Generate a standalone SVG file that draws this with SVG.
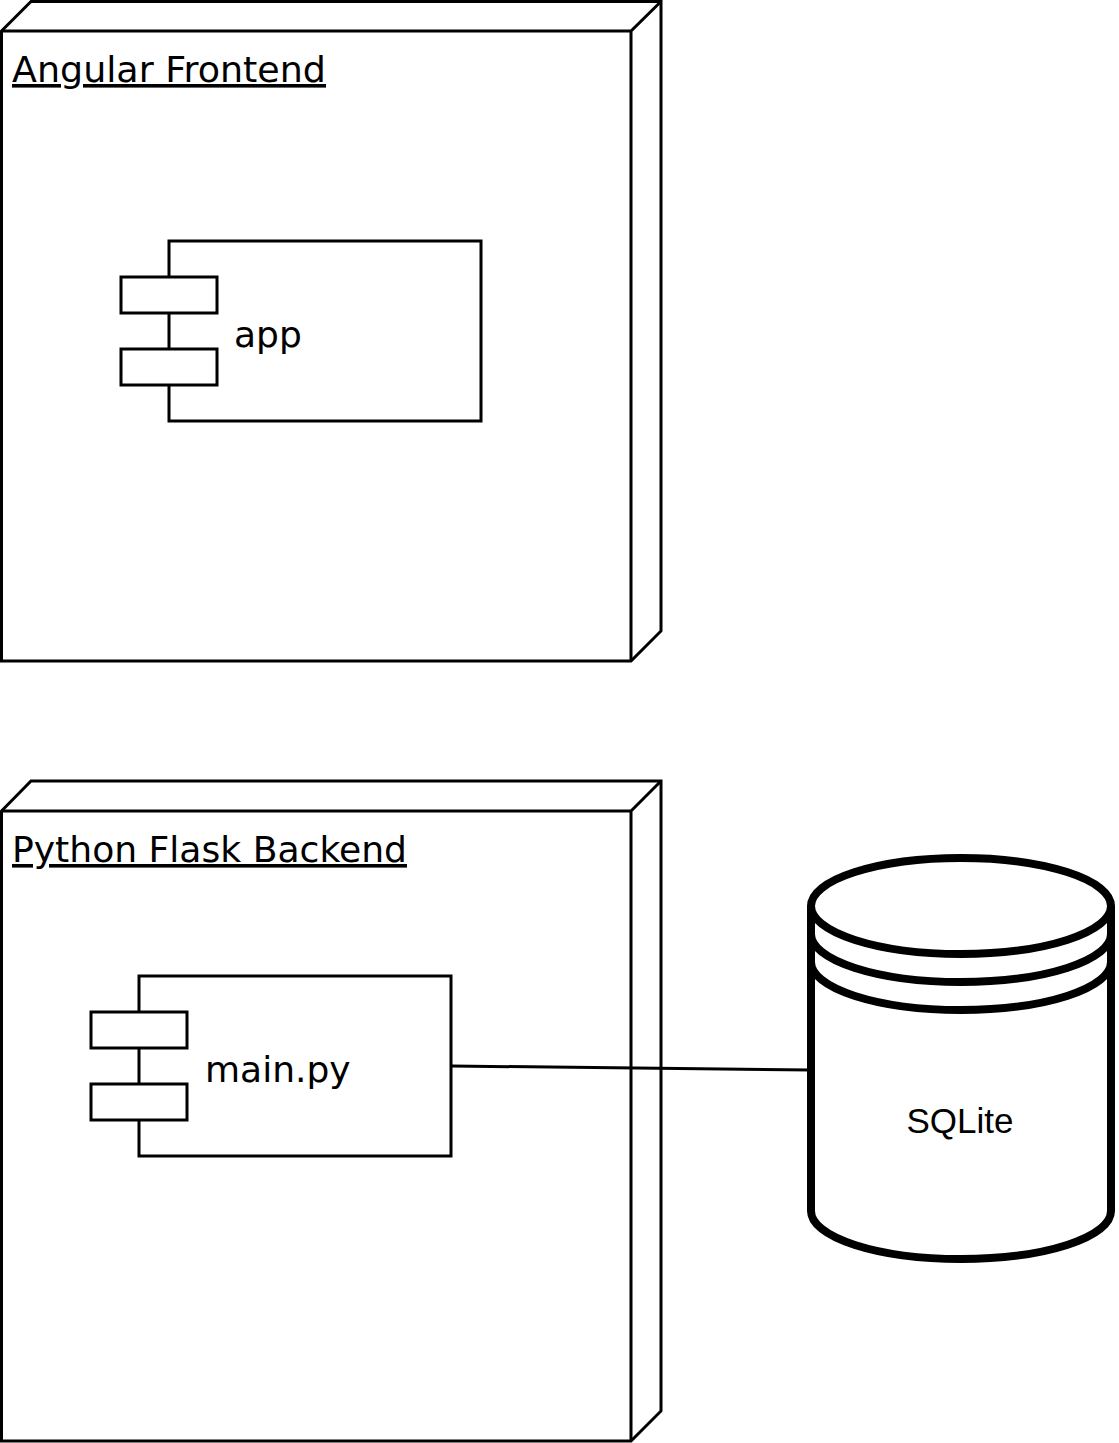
<svg xmlns="http://www.w3.org/2000/svg" width="1119" height="1443" viewBox="0 0 1119 1443">
<style>
.ln{fill:none;stroke:#000;stroke-width:3;stroke-linejoin:miter}
.bx{fill:#fff;stroke:#000;stroke-width:3}
.t{font-family:"DejaVu Sans",Verdana,sans-serif;font-size:36px;fill:#000}
.u{text-decoration:underline}
.db{fill:#fff;stroke:#000;stroke-width:8}
.dbl{fill:none;stroke:#000;stroke-width:8}
.s{font-family:"Liberation Sans",Arial,sans-serif;font-size:35px;fill:#000}
</style>
<rect width="1119" height="1443" fill="#fff"/>
<g id="node-angular">
<path class="bx" d="M1.5,31 L31,1.5 L661,1.5 L661,631 L631,661 L1.5,661 Z"/>
<path class="ln" d="M1.5,31 L631,31 L661,1.5 M631,31 L631,661"/>
<text class="t u" x="12" y="82" textLength="314" lengthAdjust="spacingAndGlyphs">Angular Frontend</text>
</g>
<g id="comp-app">
<rect class="bx" x="169" y="241" width="312" height="180"/>
<rect class="bx" x="121" y="277" width="96" height="36"/>
<rect class="bx" x="121" y="349" width="96" height="36"/>
<text class="t" x="234" y="347">app</text>
</g>
<g id="node-flask">
<path class="bx" d="M1.5,811 L31,781 L661,781 L661,1411 L631,1441 L1.5,1441 Z"/>
<path class="ln" d="M1.5,811 L631,811 L661,781 M631,811 L631,1441"/>
<text class="t u" x="12" y="862" textLength="395" lengthAdjust="spacingAndGlyphs">Python Flask Backend</text>
</g>
<g id="comp-main">
<rect class="bx" x="139" y="976" width="312" height="180"/>
<rect class="bx" x="91" y="1012" width="96" height="36"/>
<rect class="bx" x="91" y="1084" width="96" height="36"/>
<text class="t" x="205" y="1082">main.py</text>
</g>
<g id="connectors">
<path class="ln" d="M452,1066 L811,1070"/>
</g>
<g id="db-sqlite">
<path class="db" d="M811,906 A150,48 0 0 1 1111,906 L1111,1211 A150,48 0 0 1 811,1211 Z"/>
<path class="dbl" d="M811,906 A150,48 0 0 0 1111,906 M811,934 A150,48 0 0 0 1111,934 M811,962 A150,48 0 0 0 1111,962"/>
<text class="s" x="960" y="1133" text-anchor="middle">SQLite</text>
</g>
</svg>
